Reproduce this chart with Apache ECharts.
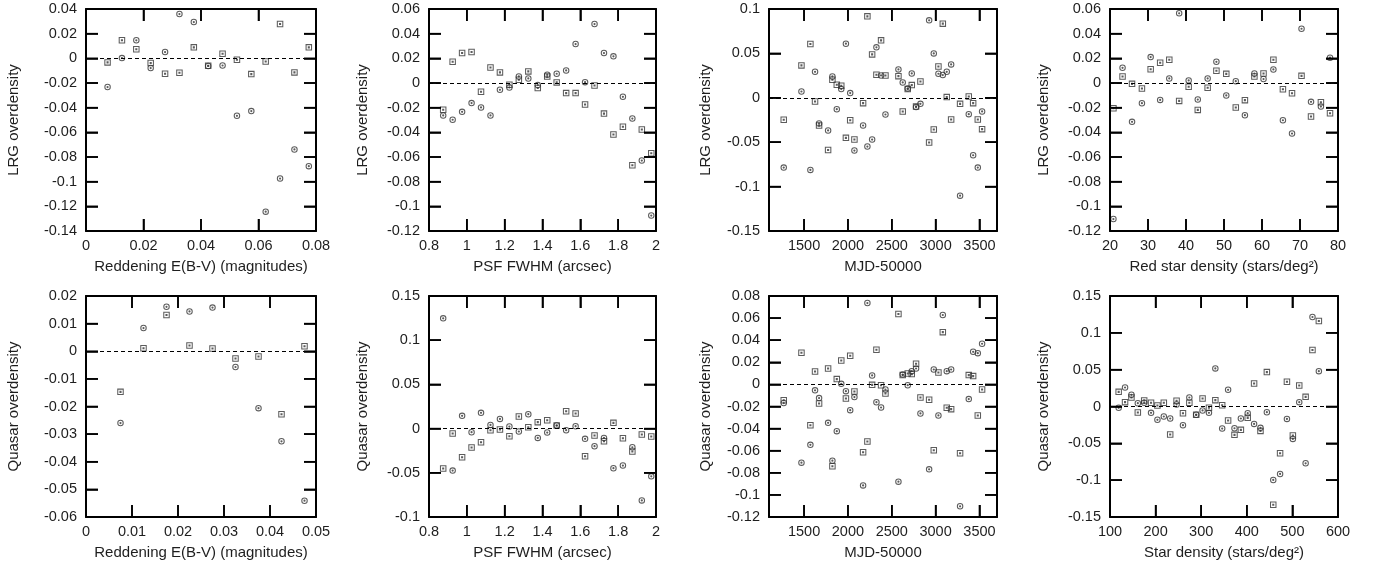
<!DOCTYPE html>
<html>
<head>
<meta charset="utf-8">
<script src="https://cdn.jsdelivr.net/npm/echarts@6/dist/echarts.min.js"></script>
<style>
html,body{margin:0;padding:0;background:#fff;}
#chart{width:1379px;height:571px;}
</style>
</head>
<body>
<div id="chart"></div>
<script>
// ---------- DATA ----------
const p1X = [0.0075,0.0125,0.0175,0.0225,0.0275,0.0325,0.0375,0.0425,0.0475,0.0525,0.0575,0.0625,0.0675,0.0725,0.0775];
const p1Sq = [-0.0033,0.0146,0.0073,-0.0038,-0.0125,-0.0117,0.0089,-0.0060,0.0037,-0.0011,-0.0128,-0.0025,0.0278,-0.0114,0.0089];
const p1Ci = [-0.0233,0.0002,0.0146,-0.0079,0.0051,0.0359,0.0294,-0.0062,-0.0058,-0.0466,-0.0428,-0.1243,-0.0975,-0.0739,-0.0874];

const p2X = [0.875,0.925,0.975,1.025,1.075,1.125,1.175,1.225,1.275,1.325,1.375,1.425,1.475,1.525,1.575,1.625,1.675,1.725,1.775,1.825,1.875,1.925,1.975];
const p2Sq = [-0.0217,0.0172,0.0243,0.0251,-0.0071,0.0126,0.0086,-0.0014,0.0026,0.0094,-0.0041,0.0053,0.0005,-0.0082,-0.0082,-0.0174,-0.0020,-0.0248,-0.0418,-0.0355,-0.0667,-0.0377,-0.0569];
const p2Ci = [-0.0263,-0.0298,-0.0234,-0.0163,-0.0198,-0.0263,-0.0055,-0.0036,0.0053,0.0037,-0.0017,0.0067,0.0075,0.0102,0.0316,0.0007,0.0478,0.0243,0.0216,-0.0112,-0.0288,-0.0629,-0.1075];

const mjdX = [1268,1470,1572,1625,1671,1774,1823,1873,1924,1977,2026,2074,2173,2222,2276,2325,2378,2428,2576,2625,2682,2728,2777,2827,2926,2979,3032,3082,3127,3177,3279,3378,3428,3481,3530];
const p3Sq = [-0.0248,0.0365,0.0605,-0.0041,-0.0312,-0.0587,0.0203,0.0147,0.0135,-0.0451,-0.0252,-0.0470,-0.0060,0.0917,0.0489,0.0259,0.0647,0.0252,0.0244,-0.0154,0.0098,0.0143,-0.0098,0.0184,-0.0504,-0.0357,0.0353,0.0835,0.0008,-0.0244,-0.0068,0.0015,-0.0060,-0.0244,-0.0353];
const p3Ci = [-0.0786,0.0071,-0.0812,0.0293,-0.0290,-0.0368,0.0241,-0.0128,0.0098,0.0609,0.0053,-0.0594,-0.0312,-0.0549,-0.0470,0.0568,0.0252,-0.0188,0.0320,0.0173,0.0105,0.0274,-0.0105,-0.0068,0.0872,0.0500,0.0271,0.0256,0.0293,0.0376,-0.1102,-0.0184,-0.0647,-0.0786,-0.0154];

const p4X = [20.9,23.3,25.8,28.4,30.7,33.2,35.6,38.2,40.7,43.1,45.7,48.0,50.6,53.1,55.5,58.0,60.4,63.0,65.5,67.9,70.4,72.9,75.5,77.9];
const p4Sq = [-0.0205,0.0053,-0.0007,-0.0045,0.0112,0.0164,0.0188,-0.0145,-0.0031,-0.0218,-0.0039,0.0099,0.0074,-0.0199,-0.0139,0.0053,0.0077,0.0188,-0.0050,-0.0083,0.0058,-0.0272,-0.0156,-0.0245];
const p4Ci = [-0.1103,0.0123,-0.0315,-0.0164,0.0210,-0.0137,0.0037,0.0565,0.0021,-0.0134,0.0037,0.0172,-0.0101,0.0015,-0.0261,0.0077,0.0032,0.0110,-0.0302,-0.0410,0.0440,-0.0153,-0.0191,0.0205];

const p5X = [0.0075,0.0125,0.0175,0.0225,0.0275,0.0325,0.0375,0.0425,0.0475];
const p5Sq = [-0.0147,0.0011,0.0131,0.0021,0.0010,-0.0026,-0.0019,-0.0228,0.0018];
const p5Ci = [-0.0260,0.0084,0.0161,0.0144,0.0158,-0.0057,-0.0206,-0.0326,-0.0541];

const p6X = [0.875,0.925,0.975,1.025,1.075,1.125,1.175,1.225,1.275,1.325,1.375,1.425,1.475,1.525,1.575,1.625,1.675,1.725,1.775,1.825,1.875,1.925,1.975];
const p6Sq = [-0.0452,-0.0056,-0.0325,-0.0214,-0.0154,-0.0018,-0.0011,-0.0086,0.0137,0.0016,0.0073,0.0095,0.0035,0.0197,0.0171,-0.0312,-0.0079,-0.0143,0.0065,-0.0109,-0.0260,-0.0067,-0.0090];
const p6Ci = [0.1247,-0.0475,0.0144,-0.0041,0.0178,0.0042,0.0110,0.0023,-0.0033,0.0163,-0.0105,-0.0045,0.0035,-0.0018,0.0027,-0.0116,-0.0199,-0.0105,-0.0448,-0.0418,-0.0211,-0.0812,-0.0540];

const p7Sq = [-0.0143,0.0286,-0.0369,0.0117,-0.0173,0.0144,-0.0741,0.0048,0.0217,-0.0127,0.0259,-0.0065,-0.0614,-0.0517,-0.0004,0.0314,-0.0007,-0.0083,0.0637,0.0084,0.0099,0.0093,0.0187,-0.0118,-0.0139,-0.0596,0.0108,0.0473,-0.0212,-0.0224,-0.0623,0.0084,0.0075,-0.0281,-0.0046];
const p7Ci = [-0.0169,-0.0708,-0.0547,-0.0054,-0.0124,-0.0348,-0.0690,-0.0423,0.0005,-0.0061,-0.0233,-0.0115,-0.0914,0.0736,0.0081,-0.0161,-0.0209,-0.0046,-0.0880,0.0089,-0.0007,0.0120,0.0144,-0.0263,-0.0769,0.0135,-0.0281,0.0628,0.0120,0.0135,-0.1103,-0.0133,0.0295,0.0283,0.0368];

const p8X = [119,133,147,161,175,190,204,218,232,246,260,274,289,303,317,331,346,359,373,387,402,416,430,444,458,473,488,501,515,529,544,558];
const p8Sq = [0.0199,0.0059,0.0122,-0.0082,0.0082,0.0050,0.0014,0.0050,-0.0381,0.0077,-0.0091,0.0050,-0.0113,0.0109,-0.0018,0.0086,0.0018,-0.0190,-0.0385,-0.0317,-0.0154,0.0313,-0.0331,0.0467,-0.1333,-0.0635,0.0335,-0.0394,0.0286,0.0131,0.0766,0.1160];
const p8Ci = [-0.0018,0.0258,0.0159,0.0045,0.0050,-0.0086,-0.0181,-0.0136,-0.0163,0.0027,-0.0254,0.0122,-0.0113,-0.0054,-0.0086,0.0517,-0.0299,0.0227,-0.0295,-0.0163,-0.0091,-0.0236,-0.0290,-0.0077,-0.0997,-0.0916,-0.0168,-0.0440,0.0059,-0.0771,0.1215,0.0480];

const mjdTicks = [1500,2000,2500,3000,3500];

const xTitles = ['Reddening E(B-V) (magnitudes)','PSF FWHM (arcsec)','MJD-50000','Red star density (stars/deg\u00B2)',
                 'Reddening E(B-V) (magnitudes)','PSF FWHM (arcsec)','MJD-50000','Star density (stars/deg\u00B2)'];
const yTitles = ['LRG overdensity','LRG overdensity','LRG overdensity','LRG overdensity',
                 'Quasar overdensity','Quasar overdensity','Quasar overdensity','Quasar overdensity'];

// axis ranges [min, max, interval]
const xRanges = [[0,0.08,0.02],[0.8,2,0.2],[1100,3700,null],[20,80,10],[0,0.05,0.01],[0.8,2,0.2],[1100,3700,null],[100,600,100]];
const yRanges = [[-0.14,0.04,0.02],[-0.12,0.06,0.02],[-0.15,0.1,0.05],[-0.12,0.06,0.02],[-0.06,0.02,0.01],[-0.1,0.15,0.05],[-0.12,0.08,0.02],[-0.15,0.15,0.05]];

const panelData = [
  [p1X,p1Sq,p1Ci],[p2X,p2Sq,p2Ci],[mjdX,p3Sq,p3Ci],[p4X,p4Sq,p4Ci],
  [p5X,p5Sq,p5Ci],[p6X,p6Sq,p6Ci],[mjdX,p7Sq,p7Ci],[p8X,p8Sq,p8Ci]
];

// ---------- LAYOUT / STYLE ----------
const colLeft = [86, 429, 769, 1110];
const colWidth = [230, 227, 228, 228];
const rowTop = [9, 296];
const rowHeight = [222, 221];
const yNameGap = [65, 59, 56, 59];
const TICK_LEN = 12;
const FONT = '"Liberation Sans", Arial, Helvetica, sans-serif';
const TXT = '#1e1e1e';

const circleSym = 'path://M10,5A5,5,0,1,1,0,5A5,5,0,1,1,10,5Z M8.4,5A3.4,3.4,0,1,0,1.6,5A3.4,3.4,0,1,0,8.4,5Z M6.7,5A1.7,1.7,0,1,1,3.3,5A1.7,1.7,0,1,1,6.7,5Z';
const squareSym = 'path://M0,0L10,0L10,10L0,10Z M1.6,1.6L1.6,8.4L8.4,8.4L8.4,1.6Z M3.4,3.4L6.6,3.4L6.6,6.6L3.4,6.6Z';

function fmt(v){ return String(Math.round(v*1e6)/1e6); }
function innerTicks(min, max, step){
  const out = [], n = Math.round((max - min) / step);
  for (let k = 1; k < n; k++) out.push(Math.round((min + k*step) * 1e9) / 1e9);
  return out;
}

const grids = [], xAxes = [], yAxes = [], series = [], axisPairs = [];
for (let i = 0; i < 8; i++) {
  const r = Math.floor(i/4), c = i % 4;
  grids.push({left: colLeft[c], top: rowTop[r], width: colWidth[c], height: rowHeight[r]});
  const xr = xRanges[i], yr = yRanges[i];
  const isMjd = xr[2] === null;
  const tick = () => ({show: true, inside: true, length: TICK_LEN, lineStyle: {color: '#000', width: 1.6}});
  const xtick = () => { const t = tick(); if (isMjd) t.customValues = mjdTicks; return t; };
  const line = () => ({show: true, onZero: false, lineStyle: {color: '#000', width: 2}});
  const xLab = {show: true, margin: 7, fontSize: 14.5, color: TXT, fontFamily: FONT, formatter: fmt, showMinLabel: true, showMaxLabel: true};
  if (isMjd) xLab.customValues = mjdTicks;

  const xa = {type: 'value', gridIndex: i, min: xr[0], max: xr[1], position: 'bottom', z: 5,
    axisTick: xtick(), axisLine: line(), axisLabel: xLab, splitLine: {show: false},
    name: xTitles[i], nameLocation: 'middle', nameGap: 28,
    nameTextStyle: {fontSize: 15, color: TXT, fontFamily: FONT}};
  const xm = {type: 'value', gridIndex: i, min: xr[0], max: xr[1], position: 'top', z: 5,
    axisTick: xtick(), axisLine: line(), axisLabel: {show: false}, splitLine: {show: false}};
  if (!isMjd) { xa.interval = xr[2]; xm.interval = xr[2]; }

  const ya = {type: 'value', gridIndex: i, min: yr[0], max: yr[1], interval: yr[2], position: 'left', z: 5,
    axisTick: tick(), axisLine: line(),
    axisLabel: {show: true, margin: 9, fontSize: 14.5, color: TXT, fontFamily: FONT, formatter: fmt, showMinLabel: true, showMaxLabel: true},
    splitLine: {show: false},
    name: yTitles[i], nameLocation: 'middle', nameGap: yNameGap[c],
    nameTextStyle: {fontSize: 15, color: TXT, fontFamily: FONT}};
  const ym = {type: 'value', gridIndex: i, min: yr[0], max: yr[1], interval: yr[2], position: 'right', z: 5,
    axisTick: tick(), axisLine: line(), axisLabel: {show: false}, splitLine: {show: false}};

  const xi = xAxes.length, yi = yAxes.length;
  xAxes.push(xa); yAxes.push(ya);
  xAxes.push(xm); yAxes.push(ym);
  axisPairs.push([xi, yi]);

  const [xs, sq, ci] = panelData[i];
  series.push({type: 'scatter', xAxisIndex: xi, yAxisIndex: yi, symbol: squareSym, symbolSize: 6.5,
    itemStyle: {color: '#333'}, data: xs.map((x, j) => [x, sq[j]]),
    markLine: {silent: true, symbol: ['none','none'], label: {show: false},
      lineStyle: {type: [4,3], color: '#000', width: 1}, data: [{yAxis: 0}]}});
  series.push({type: 'scatter', xAxisIndex: xi, yAxisIndex: yi, symbol: circleSym, symbolSize: 6.5,
    itemStyle: {color: '#333'}, data: xs.map((x, j) => [x, ci[j]])});
}

const chart = echarts.init(document.getElementById('chart'));
chart.setOption({animation: false, grid: grids, xAxis: xAxes, yAxis: yAxes, series: series});

// Inward frame ticks on all four sides, positioned through the axes' own scales.
const tickEls = [];
for (let i = 0; i < 8; i++) {
  const [xi, yi] = axisPairs[i];
  const xr = xRanges[i], yr = yRanges[i];
  const xt = xr[2] === null ? mjdTicks : innerTicks(xr[0], xr[1], xr[2]);
  const yt = innerTicks(yr[0], yr[1], yr[2]);
  const finder = {xAxisIndex: xi, yAxisIndex: yi};
  const seg = (p, q) => tickEls.push({type: 'line', silent: true, z: 100,
    shape: {x1: p[0], y1: p[1], x2: q[0], y2: q[1]}, style: {stroke: '#000', lineWidth: 1.6}});
  xt.forEach(v => {
    const b = chart.convertToPixel(finder, [v, yr[0]]);
    const t = chart.convertToPixel(finder, [v, yr[1]]);
    if (!b || !t) return;
    seg(b, [b[0], b[1] - TICK_LEN]);
    seg(t, [t[0], t[1] + TICK_LEN]);
  });
  yt.forEach(v => {
    const L = chart.convertToPixel(finder, [xr[0], v]);
    const R = chart.convertToPixel(finder, [xr[1], v]);
    if (!L || !R) return;
    seg(L, [L[0] + TICK_LEN, L[1]]);
    seg(R, [R[0] - TICK_LEN, R[1]]);
  });
}
chart.setOption({graphic: tickEls});
</script>
</body>
</html>
